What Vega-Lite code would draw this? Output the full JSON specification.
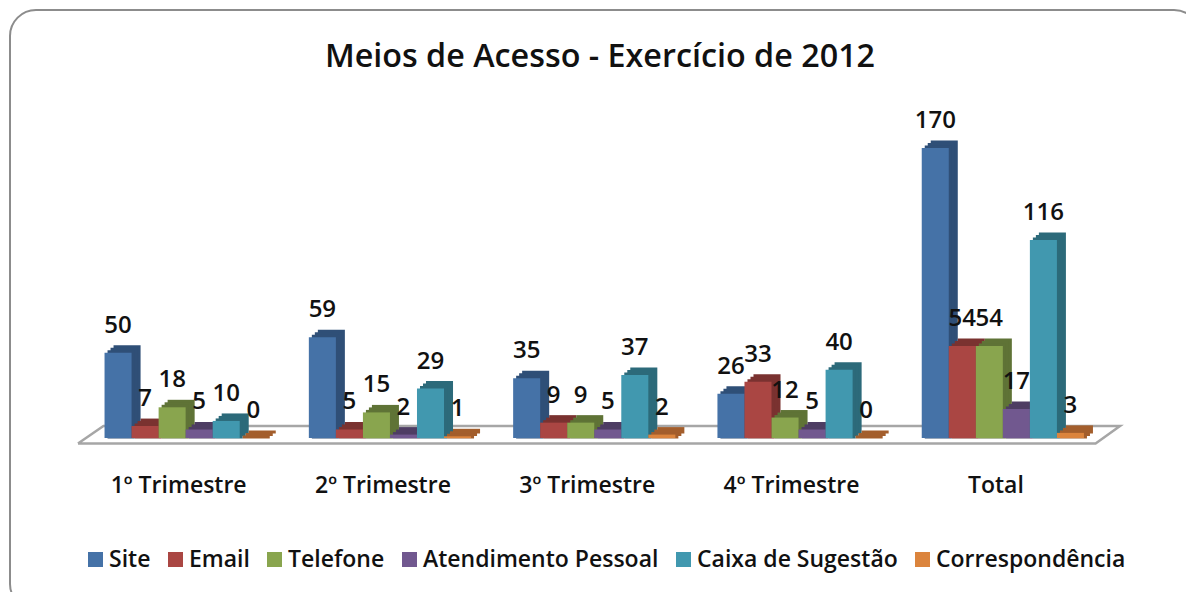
{
"$schema":"https://vega.github.io/schema/vega-lite/v6.json",
"width":1190,"height":600,
"autosize":{"type":"none"},
"padding":{"left":10,"top":10,"right":0,"bottom":0},
"background":"white",
"config":{"view":{"stroke":"#8c8c8c","strokeWidth":2,"cornerRadius":26,"fill":"white"},"font":"Open Sans"},
"title":{"text":"Meios de Acesso - Exercício de 2012","font":"Open Sans","fontSize":32.3,"fontWeight":600,"color":"#111111","anchor":"middle","frame":"group","orient":"top","dy":67,"dx":-5},
"datasets":{"d":[
{"g":"1º Trimestre","s":"Site","v":50},{"g":"1º Trimestre","s":"Email","v":7},{"g":"1º Trimestre","s":"Telefone","v":18},{"g":"1º Trimestre","s":"Atendimento Pessoal","v":5},{"g":"1º Trimestre","s":"Caixa de Sugestão","v":10},{"g":"1º Trimestre","s":"Correspondência","v":0},
{"g":"2º Trimestre","s":"Site","v":59},{"g":"2º Trimestre","s":"Email","v":5},{"g":"2º Trimestre","s":"Telefone","v":15},{"g":"2º Trimestre","s":"Atendimento Pessoal","v":2},{"g":"2º Trimestre","s":"Caixa de Sugestão","v":29},{"g":"2º Trimestre","s":"Correspondência","v":1},
{"g":"3º Trimestre","s":"Site","v":35},{"g":"3º Trimestre","s":"Email","v":9},{"g":"3º Trimestre","s":"Telefone","v":9},{"g":"3º Trimestre","s":"Atendimento Pessoal","v":5},{"g":"3º Trimestre","s":"Caixa de Sugestão","v":37},{"g":"3º Trimestre","s":"Correspondência","v":2},
{"g":"4º Trimestre","s":"Site","v":26},{"g":"4º Trimestre","s":"Email","v":33},{"g":"4º Trimestre","s":"Telefone","v":12},{"g":"4º Trimestre","s":"Atendimento Pessoal","v":5},{"g":"4º Trimestre","s":"Caixa de Sugestão","v":40},{"g":"4º Trimestre","s":"Correspondência","v":0},
{"g":"Total","s":"Site","v":170},{"g":"Total","s":"Email","v":54},{"g":"Total","s":"Telefone","v":54},{"g":"Total","s":"Atendimento Pessoal","v":17},{"g":"Total","s":"Caixa de Sugestão","v":116},{"g":"Total","s":"Correspondência","v":3}
],
"floor":[{"a":0,"b":-3.2,"o":1},{"a":1000,"b":-3.2,"o":2},{"a":1024,"b":7,"o":3},{"a":25,"b":7,"o":4},{"a":0,"b":-3.2,"o":5}]},
"data":{"name":"d"},
"layer":[
{"data":{"name":"floor"},
 "mark":{"type":"line","stroke":"#a6a6a6","strokeWidth":2.5,"clip":false},
 "encoding":{"x":{"field":"a","type":"quantitative","axis":null,"scale":{"domain":[0,1024],"range":[68,1110]}},
 "y":{"field":"b","type":"quantitative","axis":null,"scale":{"domain":[0,170],"range":[428,138]}},
 "order":{"field":"o"}}},
{"mark":{"type":"bar","yOffset":-7.5,"y2Offset":-4.5},
 "encoding":{"x":{"field":"g","type":"nominal","sort":null,"axis":null,"scale":{"range":[82.5,1104],"paddingInner":0.206,"paddingOuter":0.103}},
 "xOffset":{"field":"s","type":"nominal","sort":["Site","Email","Telefone","Atendimento Pessoal","Caixa de Sugestão","Correspondência"],"scale":{"paddingInner":0,"paddingOuter":0}},
 "y":{"field":"v","type":"quantitative","axis":null,"stack":null,"scale":{"domain":[0,170],"range":[428,138]}},"y2":{"datum":0},
 "color":{"field":"s","type":"nominal","legend":null,"scale":{"domain":["Site","Email","Telefone","Atendimento Pessoal","Caixa de Sugestão","Correspondência"],"range":["#2F4F77","#7A3230","#5F7336","#4E3D63","#2C6A7A","#A35E2C"]}}}},
{"mark":{"type":"bar","yOffset":-5,"y2Offset":-2},
 "encoding":{"x":{"field":"g","type":"nominal","sort":null,"axis":null,"scale":{"range":[79.5,1101],"paddingInner":0.206,"paddingOuter":0.103}},
 "xOffset":{"field":"s","type":"nominal","sort":["Site","Email","Telefone","Atendimento Pessoal","Caixa de Sugestão","Correspondência"],"scale":{"paddingInner":0,"paddingOuter":0}},
 "y":{"field":"v","type":"quantitative","axis":null,"stack":null,"scale":{"domain":[0,170],"range":[428,138]}},"y2":{"datum":0},
 "color":{"field":"s","type":"nominal","legend":null,"scale":{"domain":["Site","Email","Telefone","Atendimento Pessoal","Caixa de Sugestão","Correspondência"],"range":["#2F4F77","#7A3230","#5F7336","#4E3D63","#2C6A7A","#A35E2C"]}}}},
{"mark":{"type":"bar","yOffset":-2.5,"y2Offset":0.5},
 "encoding":{"x":{"field":"g","type":"nominal","sort":null,"axis":null,"scale":{"range":[76.5,1098],"paddingInner":0.206,"paddingOuter":0.103}},
 "xOffset":{"field":"s","type":"nominal","sort":["Site","Email","Telefone","Atendimento Pessoal","Caixa de Sugestão","Correspondência"],"scale":{"paddingInner":0,"paddingOuter":0}},
 "y":{"field":"v","type":"quantitative","axis":null,"stack":null,"scale":{"domain":[0,170],"range":[428,138]}},"y2":{"datum":0},
 "color":{"field":"s","type":"nominal","legend":null,"scale":{"domain":["Site","Email","Telefone","Atendimento Pessoal","Caixa de Sugestão","Correspondência"],"range":["#2F4F77","#7A3230","#5F7336","#4E3D63","#2C6A7A","#A35E2C"]}}}},
{"encoding":{
 "x":{"field":"g","type":"nominal","sort":null,"title":null,"scale":{"range":[73.5,1095],"paddingInner":0.206,"paddingOuter":0.103},
  "axis":{"orient":"bottom","offset":-133,"domain":false,"ticks":false,"labelAngle":0,"labelOffset":-7,"labelFont":"Open Sans","labelFontSize":23,"labelFontWeight":600,"labelColor":"#111111","labelPadding":8,"labelBaseline":"middle","grid":false}},
 "xOffset":{"field":"s","type":"nominal","sort":["Site","Email","Telefone","Atendimento Pessoal","Caixa de Sugestão","Correspondência"],"scale":{"paddingInner":0,"paddingOuter":0}},
 "y":{"field":"v","type":"quantitative","axis":null,"stack":null,"scale":{"domain":[0,170],"range":[428,138]}}},
 "layer":[
 {"mark":{"type":"bar"},"encoding":{"y2":{"datum":0},
  "color":{"field":"s","type":"nominal","sort":["Site","Email","Telefone","Atendimento Pessoal","Caixa de Sugestão","Correspondência"],
  "scale":{"domain":["Site","Email","Telefone","Atendimento Pessoal","Caixa de Sugestão","Correspondência"],"range":["#4572A7","#AA4643","#89A54E","#71588F","#4198AF","#DB843D"]},
  "legend":{"title":null,"orient":"none","legendX":74,"legendY":538,"direction":"horizontal","columns":6,"gridAlign":"none","columnPadding":13,"symbolType":"square","symbolSize":225,"labelFont":"Open Sans","labelFontSize":23,"labelFontWeight":600,"labelColor":"#111111","labelOffset":2,"labelLimit":400,"symbolStrokeWidth":0}}}},
 {"mark":{"type":"text","font":"Open Sans","fontSize":24,"fontWeight":600,"baseline":"middle","dy":-27,"color":"#111111"},"encoding":{"text":{"field":"v","type":"quantitative"}}}
 ]}
],
"resolve":{"scale":{"x":"independent","xOffset":"independent","color":"independent"}}
}
